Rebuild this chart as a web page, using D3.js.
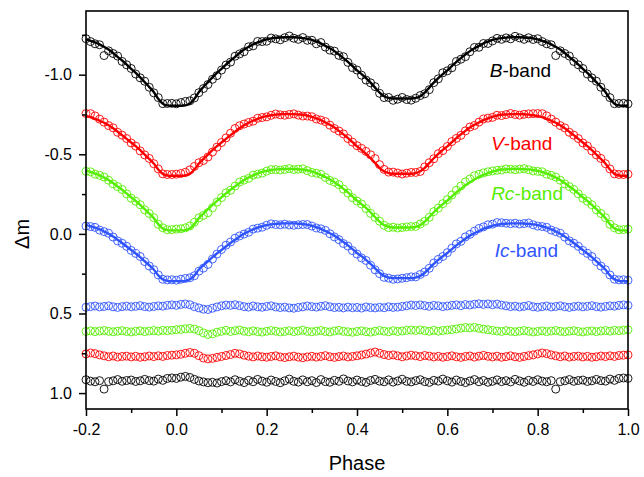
<!DOCTYPE html>
<html>
<head>
<meta charset="utf-8">
<script src="https://cdn.jsdelivr.net/npm/d3@7"></script>
<style>
  html, body { margin: 0; padding: 0; background: #fff; }
  svg { display: block; font-family: "Liberation Sans", Arial, sans-serif; }
</style>
</head>
<body>
<svg id="chart" width="644" height="477"></svg>
<script>
// ---------------- DATA ----------------
// phases of the stored points: 0.00 ... 0.99 (step 0.01); the plot repeats them from -0.2 to 1.0
const basePhases = d3.range(100).map(i => i / 100);

// Theoretical (fitted) light curves, Δm
const fitB = [-0.805,-0.805,-0.807,-0.818,-0.848,-0.891,-0.923,-0.953,-0.983,-1.011,
  -1.037,-1.063,-1.089,-1.112,-1.136,-1.158,-1.175,-1.190,-1.203,-1.213,
  -1.222,-1.228,-1.232,-1.234,-1.235,-1.235,-1.235,-1.233,-1.230,-1.225,
  -1.218,-1.208,-1.197,-1.181,-1.166,-1.148,-1.127,-1.104,-1.081,-1.054,
  -1.027,-1.004,-0.979,-0.950,-0.919,-0.888,-0.865,-0.854,-0.850,-0.850,
  -0.850,-0.850,-0.850,-0.854,-0.865,-0.888,-0.919,-0.950,-0.979,-1.004,
  -1.027,-1.054,-1.081,-1.104,-1.127,-1.148,-1.166,-1.181,-1.197,-1.208,
  -1.218,-1.225,-1.230,-1.233,-1.235,-1.235,-1.235,-1.234,-1.232,-1.228,
  -1.222,-1.213,-1.203,-1.190,-1.175,-1.158,-1.136,-1.112,-1.089,-1.063,
  -1.037,-1.011,-0.983,-0.953,-0.923,-0.891,-0.848,-0.818,-0.807,-0.805];

const fitV = [-0.365,-0.365,-0.367,-0.377,-0.404,-0.442,-0.471,-0.498,-0.526,-0.551,
  -0.574,-0.597,-0.620,-0.642,-0.663,-0.682,-0.698,-0.711,-0.723,-0.733,
  -0.740,-0.745,-0.749,-0.751,-0.752,-0.752,-0.752,-0.750,-0.748,-0.743,
  -0.735,-0.726,-0.715,-0.700,-0.685,-0.668,-0.647,-0.625,-0.602,-0.576,
  -0.550,-0.528,-0.503,-0.475,-0.445,-0.415,-0.393,-0.382,-0.378,-0.378,
  -0.378,-0.378,-0.378,-0.382,-0.393,-0.415,-0.445,-0.475,-0.503,-0.528,
  -0.550,-0.576,-0.602,-0.625,-0.647,-0.668,-0.685,-0.700,-0.715,-0.726,
  -0.735,-0.743,-0.748,-0.750,-0.752,-0.752,-0.752,-0.751,-0.749,-0.745,
  -0.740,-0.733,-0.723,-0.711,-0.698,-0.682,-0.663,-0.642,-0.620,-0.597,
  -0.574,-0.551,-0.526,-0.498,-0.471,-0.442,-0.404,-0.377,-0.367,-0.365];

const fitRc = [-0.022,-0.022,-0.024,-0.034,-0.061,-0.099,-0.128,-0.155,-0.182,-0.207,
  -0.230,-0.254,-0.277,-0.298,-0.319,-0.339,-0.354,-0.368,-0.379,-0.389,
  -0.396,-0.401,-0.405,-0.407,-0.408,-0.408,-0.408,-0.406,-0.404,-0.399,
  -0.391,-0.382,-0.371,-0.357,-0.342,-0.325,-0.305,-0.283,-0.261,-0.235,
  -0.209,-0.187,-0.163,-0.136,-0.106,-0.077,-0.055,-0.044,-0.040,-0.040,
  -0.040,-0.040,-0.040,-0.044,-0.055,-0.077,-0.106,-0.136,-0.163,-0.187,
  -0.209,-0.235,-0.261,-0.283,-0.305,-0.325,-0.342,-0.357,-0.371,-0.382,
  -0.391,-0.399,-0.404,-0.406,-0.408,-0.408,-0.408,-0.407,-0.405,-0.401,
  -0.396,-0.389,-0.379,-0.368,-0.354,-0.339,-0.319,-0.298,-0.277,-0.254,
  -0.230,-0.207,-0.182,-0.155,-0.128,-0.099,-0.061,-0.034,-0.024,-0.022];

const fitIc = [0.297,0.297,0.295,0.286,0.261,0.224,0.197,0.172,0.146,0.123,
  0.101,0.079,0.057,0.037,0.017,-0.001,-0.015,-0.028,-0.039,-0.048,
  -0.055,-0.060,-0.063,-0.065,-0.066,-0.066,-0.066,-0.064,-0.062,-0.057,
  -0.051,-0.042,-0.032,-0.018,-0.004,0.011,0.030,0.051,0.072,0.096,
  0.120,0.140,0.163,0.189,0.216,0.244,0.264,0.275,0.278,0.278,
  0.278,0.278,0.278,0.275,0.264,0.244,0.216,0.189,0.163,0.140,
  0.120,0.096,0.072,0.051,0.030,0.011,-0.004,-0.018,-0.032,-0.042,
  -0.051,-0.057,-0.062,-0.064,-0.066,-0.066,-0.066,-0.065,-0.063,-0.060,
  -0.055,-0.048,-0.039,-0.028,-0.015,-0.001,0.017,0.037,0.057,0.079,
  0.101,0.123,0.146,0.172,0.197,0.224,0.261,0.286,0.295,0.297];

// Residuals O-C (mmag) at the same phases
const ocB = [-12,-20,-25,-18,-6,4,10,15,12,17,
  8,2,10,-4,6,14,0,9,-6,5,
  12,-2,7,15,3,-8,6,11,-3,9,
  2,14,-5,8,12,0,6,-9,4,10,
  -2,7,13,1,-6,5,9,-3,11,4,
  -7,6,10,2,-4,8,13,0,5,-8,
  3,11,-2,7,14,4,-5,9,1,12,
  6,-3,8,2,10,-6,4,12,0,7,
  -4,5,9,2,55,8,3,-5,6,1,
  -2,7,3,-6,2,5,-8,0,-12,-15];

const ocV = [-10,-14,-20,-25,-20,-5,10,15,12,6,
  0,-6,-12,-20,-16,-8,-2,3,-3,2,
  5,0,-4,3,7,2,-2,4,8,3,
  -1,4,0,-5,2,6,1,-3,3,0,
  -4,-9,-15,-22,-28,-20,-12,-6,-10,-4,
  2,-3,-8,-4,1,-6,-2,3,-1,5,
  1,-4,2,6,0,-3,4,-2,-7,-1,
  3,-2,5,1,-4,2,6,0,-5,-10,
  -16,-22,-18,-10,-4,2,-3,4,0,-2,
  3,-1,5,2,-3,1,-4,0,-6,-8];

const ocRc = [-8,-10,-14,-16,-12,-2,12,22,18,8,
  2,-4,3,-2,-6,1,5,-1,4,7,
  2,-3,1,6,3,-2,4,0,-5,2,
  5,1,-3,3,6,0,-4,2,5,8,
  3,-1,4,7,2,-3,1,5,-2,3,
  0,-4,-6,-3,-7,-2,2,-4,1,-3,
  -6,-9,-13,-18,-22,-20,-23,-17,-12,-8,
  -4,0,3,-2,2,5,1,-3,2,6,
  3,-1,4,0,-3,2,5,1,-2,3,
  6,2,-1,4,0,-3,1,-4,-2,-5];

const ocIc = [-6,-12,-15,-10,2,10,18,20,12,4,
  -3,-8,-6,-10,-4,2,5,-2,3,6,
  1,-3,4,8,5,10,12,7,3,-2,
  2,5,0,-4,3,8,6,10,5,9,
  7,11,4,8,10,6,9,3,7,5,
  1,-3,-8,-5,-9,-4,0,-6,-3,2,
  -2,-6,-9,-4,-11,-8,-13,-16,-12,-15,
  -10,-14,-8,-3,2,-1,4,0,-5,3,
  6,2,-2,4,1,-3,3,7,2,-1,
  3,0,-4,2,5,1,-3,-1,-6,-9];

// vertical offsets at which the residual rows are displayed (Δm)
const residualOffsets = [0.92, 0.77, 0.61, 0.455];

const bandNames = ["B", "V", "Rc", "Ic"];
const bandColors = ["#000000", "#ff0000", "#55ee00", "#2f54ff"];
const fits = [fitB, fitV, fitRc, fitIc];
const residuals = [ocB, ocV, ocRc, ocIc];

const xTickValues = [-0.2, 0.0, 0.2, 0.4, 0.6, 0.8, 1.0];
const xTickLabels = ["-0.2", "0.0", "0.2", "0.4", "0.6", "0.8", "1.0"];
const xMinorTicks = [-0.1, 0.1, 0.3, 0.5, 0.7, 0.9];
const yTickValues = [-1.0, -0.5, 0.0, 0.5, 1.0];
const yTickLabels = ["-1.0", "-0.5", "0.0", "0.5", "1.0"];
const yMinorTicks = [-1.25, -0.75, -0.25, 0.25, 0.75];

// label anchor (phase, Δm) for each band label
const labelPhase = [0.694, 0.697, 0.697, 0.705];
const labelValue = [-0.984, -0.524, -0.211, 0.144];

// ---------------- CHART ----------------
const svg = d3.select("#chart");
const M = { left: 86, top: 11, right: 628, bottom: 409 };
const x = d3.scaleLinear().domain([-0.2, 1.0]).range([M.left, M.right]);
const y = d3.scaleLinear().domain([-1.4, 1.1]).range([M.top, M.bottom]);

// indices -20..100 -> phases -0.2..1.0 built from the stored 0..0.99 phases
const idx = d3.range(-20, 101);
function wrap(k) { return ((k % 100) + 100) % 100; }

const plot = svg.append("g");

fits.forEach((fit, b) => {
  const oc = residuals[b];
  const col = bandColors[b];
  const obs = idx.map(k => ({ p: basePhases[wrap(k)] + Math.floor(k / 100), v: fit[wrap(k)] + oc[wrap(k)] / 1000 }));
  const res = idx.map(k => ({ p: basePhases[wrap(k)] + Math.floor(k / 100), v: residualOffsets[b] + oc[wrap(k)] / 1000 }));
  const line = idx.map(k => ({ p: basePhases[wrap(k)] + Math.floor(k / 100), v: fit[wrap(k)] }));

  plot.append("g").selectAll("circle").data(obs).join("circle")
    .attr("cx", d => x(d.p)).attr("cy", d => y(d.v)).attr("r", 4)
    .attr("fill", "none").attr("stroke", col).attr("stroke-width", 0.9);

  plot.append("g").selectAll("circle").data(res).join("circle")
    .attr("cx", d => x(d.p)).attr("cy", d => y(d.v)).attr("r", 4)
    .attr("fill", "none").attr("stroke", col).attr("stroke-width", 0.9);

  plot.append("path").datum(line)
    .attr("d", d3.line().x(d => x(d.p)).y(d => y(d.v)).curve(d3.curveCatmullRom))
    .attr("fill", "none").attr("stroke", col).attr("stroke-width", 2.4);
});

// band labels
bandNames.forEach((name, b) => {
  const t = svg.append("text")
    .attr("x", x(labelPhase[b])).attr("y", y(labelValue[b]))
    .attr("font-size", 19).attr("fill", bandColors[b]);
  t.append("tspan").attr("font-style", "italic").text(name);
  t.append("tspan").text("-band");
});

// frame
svg.append("rect")
  .attr("x", M.left).attr("y", M.top)
  .attr("width", M.right - M.left).attr("height", M.bottom - M.top)
  .attr("fill", "none").attr("stroke", "#000").attr("stroke-width", 1.6);

// axes
const xAxis = svg.append("g").attr("transform", `translate(0,${M.bottom})`)
  .call(d3.axisBottom(x).tickValues(xTickValues).tickSize(7).tickPadding(8)
    .tickFormat((d, i) => xTickLabels[i]));
const xMinor = svg.append("g").attr("transform", `translate(0,${M.bottom})`)
  .call(d3.axisBottom(x).tickValues(xMinorTicks).tickSize(4).tickFormat(""));
const yAxis = svg.append("g").attr("transform", `translate(${M.left},0)`)
  .call(d3.axisLeft(y).tickValues(yTickValues).tickSize(7).tickPadding(7)
    .tickFormat((d, i) => yTickLabels[i]));
const yMinor = svg.append("g").attr("transform", `translate(${M.left},0)`)
  .call(d3.axisLeft(y).tickValues(yMinorTicks).tickSize(4).tickFormat(""));

[xAxis, xMinor, yAxis, yMinor].forEach(g => {
  g.select(".domain").remove();
  g.selectAll("line").attr("stroke", "#000").attr("stroke-width", 1.5);
  g.selectAll("text").attr("font-size", 16).attr("fill", "#000")
    .attr("font-family", "'Liberation Sans', Arial, sans-serif");
});

// axis titles
svg.append("text")
  .attr("x", (M.left + M.right) / 2).attr("y", 470)
  .attr("text-anchor", "middle").attr("font-size", 20).text("Phase");

svg.append("text")
  .attr("transform", `translate(29,${y(0)}) rotate(-90)`)
  .attr("text-anchor", "middle").attr("font-size", 20).text("Δm");
</script>
</body>
</html>
